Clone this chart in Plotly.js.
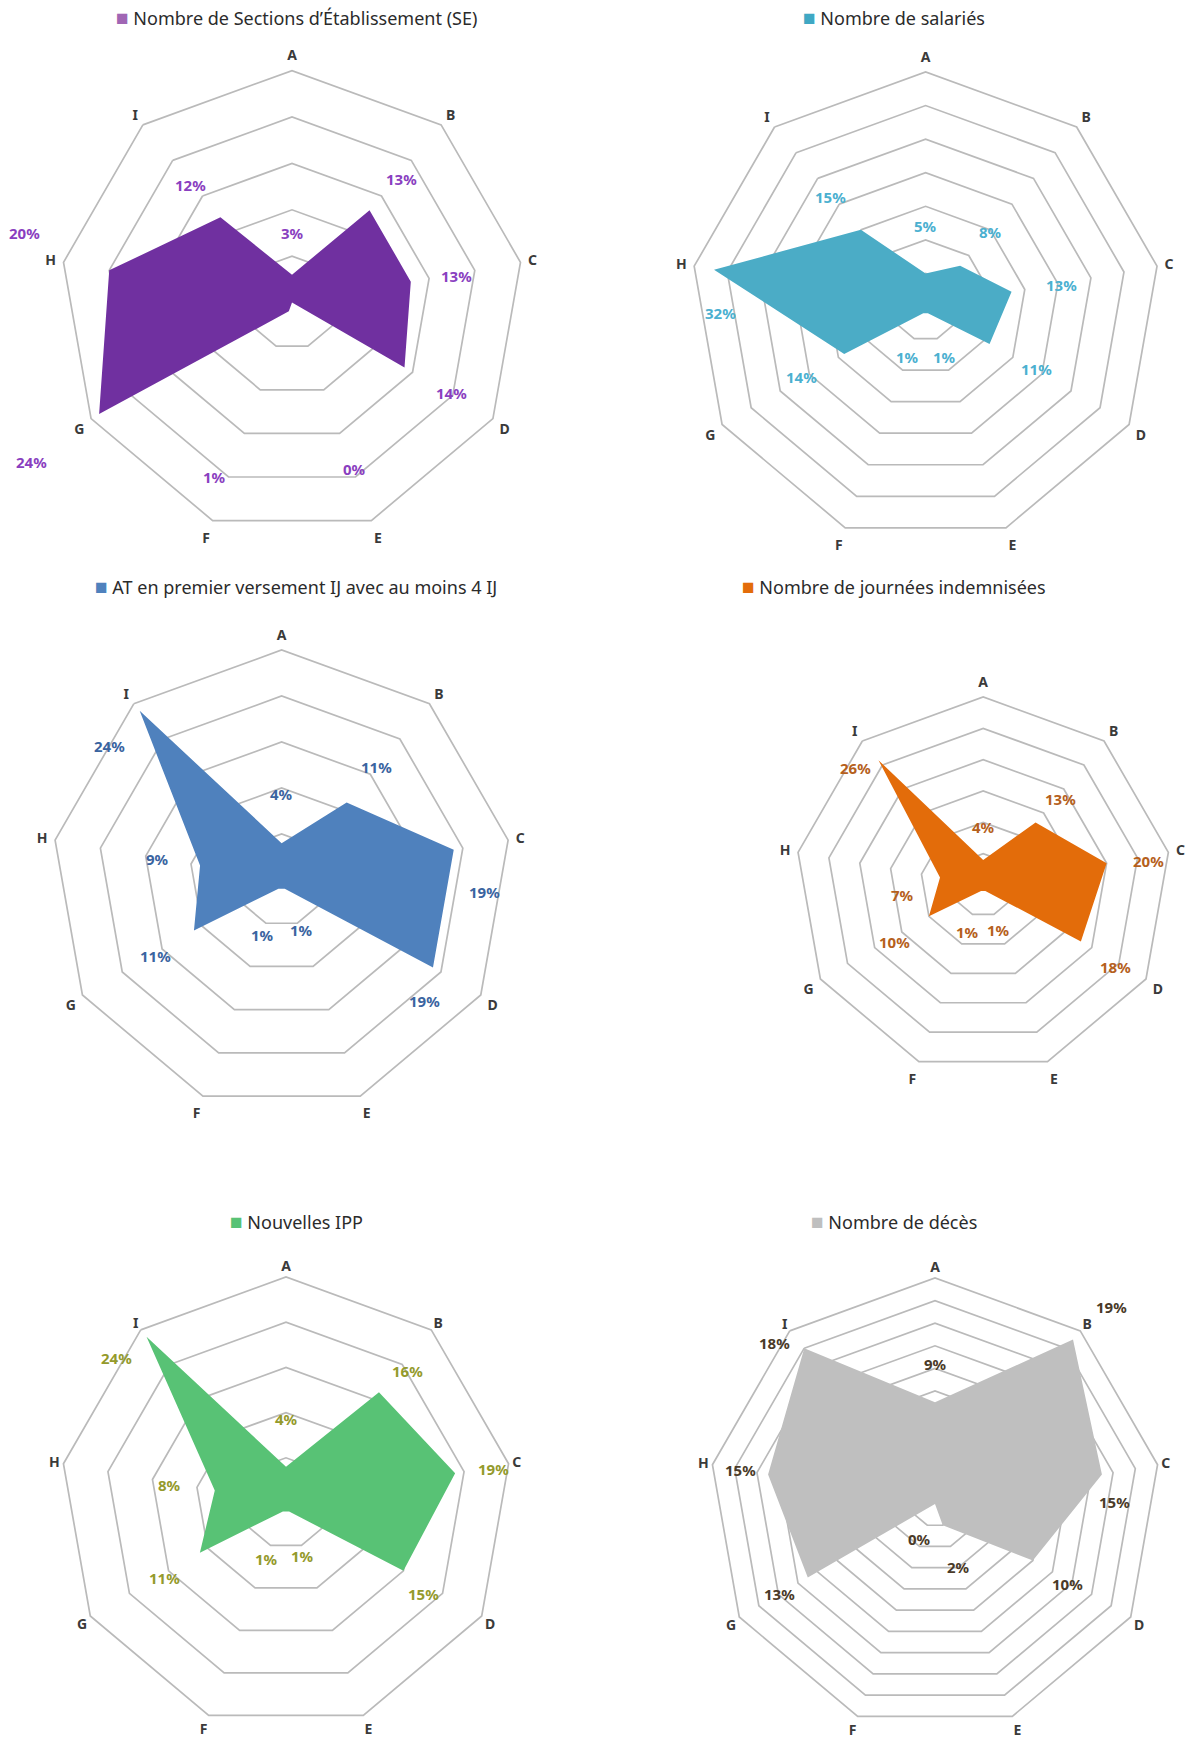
<!DOCTYPE html>
<html>
<head>
<meta charset="utf-8">
<script src="https://cdn.plot.ly/plotly-3.0.1.min.js"></script>
<style>
  html, body { margin: 0; padding: 0; background: #ffffff; overflow: hidden; }
  #chart { width: 1195px; height: 1738px; }
</style>
</head>
<body>
<div id="chart"></div>
<script>
// ---------- DATA ----------
const categories = ['A', 'B', 'C', 'D', 'E', 'F', 'G', 'H', 'I'];

const seriesNames = [
  "Nombre de Sections d\u2019\u00c9tablissement (SE)",
  "Nombre de salari\u00e9s",
  "AT en premier versement IJ avec au moins 4 IJ",
  "Nombre de journ\u00e9es indemnis\u00e9es",
  "Nouvelles IPP",
  "Nombre de d\u00e9c\u00e8s"
];

const sectionsSE   = [3, 13, 13, 14, 0, 1, 24, 20, 12];
const salaries     = [5, 8, 13, 11, 1, 1, 14, 32, 15];
const atPremierIJ  = [4, 11, 19, 19, 1, 1, 11, 9, 24];
const journees     = [4, 13, 20, 18, 1, 1, 10, 7, 26];
const nouvellesIPP = [4, 16, 19, 15, 1, 1, 11, 8, 24];
const deces        = [9, 19, 15, 10, 2, 0, 13, 15, 18];

const allSeries = [sectionsSE, salaries, atPremierIJ, journees, nouvellesIPP, deces];

// ---------- STYLE / LAYOUT (positions, sizes, colours) ----------
// label placement: radius (in axis units) and angle (deg, clockwise from top)
const W = 1195, H = 1738;
const panels = [
  { cx: 292, cy: 302.6, R: 232, max: 25, step: 5, tl: 4,
    fill: '#7030a0', key: '#a066b4', lab: '#8a3fc0', tx: 296, ty: 17,
    labR: [7.45, 17.8, 18.0, 19.7, 19.2, 20.5, 32.9, 29.8, 16.7],
    labA: [0, 41.4, 80.8, 119.5, 159.5, 203.9, 238.6, 284.5, 319.1] },
  { cx: 925.6, cy: 307, R: 235, max: 35, step: 5, tl: 4,
    fill: '#4bacc6', key: '#3fa8c4', lab: '#4bb0d0', tx: 893.5, ty: 17,
    labR: [12.1, 14.7, 20.5, 18.9, 8.0, 7.9, 21.3, 30.5, 21.7],
    labA: [0, 40.9, 80.7, 119.5, 159.3, 199.6, 240.6, 268.4, 319] },
  { cx: 281.6, cy: 880, R: 230, max: 25, step: 5, tl: 4,
    fill: '#4f81bd', key: '#4f81bd', lab: '#3a64a0', tx: 296, ty: 586,
    labR: [9.3, 16.0, 22.1, 20.3, 5.9, 6.3, 16.0, 13.7, 23.7],
    labA: [0, 40.1, 93.5, 130.2, 158.2, 199.1, 239, 279.7, 307.9] },
  { cx: 983.2, cy: 885, R: 188, max: 30, step: 5, tl: 4,
    fill: '#e36c0a', key: '#e36c0a', lab: '#b5601c', tx: 893.5, ty: 586,
    labR: [9.3, 18.5, 26.7, 24.8, 7.6, 7.9, 16.8, 13.0, 27.7],
    labA: [0, 41.9, 81.9, 121.7, 160.7, 198.4, 237.2, 262.9, 312.6] },
  { cx: 286, cy: 1503, R: 226, max: 25, step: 5, tl: 0,
    fill: '#58c275', key: '#58c275', lab: '#949a2c', tx: 296, ty: 1221,
    labR: [9.3, 19.9, 23.3, 18.2, 6.2, 6.6, 15.8, 13.0, 24.7],
    labA: [0, 42.7, 80.6, 123.5, 162.6, 199.4, 238.3, 278.7, 310.6] },
  { cx: 935, cy: 1504, R: 226, max: 20, step: 2, tl: 0,
    fill: '#bfbfbf', key: '#bfbfbf', lab: '#4a3a28', tx: 893.5, ty: 1221,
    labR: [12.4, 23.4, 15.9, 13.7, 5.9, 3.4, 15.9, 17.5, 20.1],
    labA: [0, 41.8, 89.3, 121, 159.8, 203.6, 240.1, 279.9, 315] }
];

const traces = [];
const layout = {
  width: W, height: H,
  margin: { l: 0, r: 0, t: 0, b: 0 },
  paper_bgcolor: '#ffffff',
  showlegend: false,
  font: { family: 'Noto Sans, sans-serif', color: '#333333' },
  annotations: []
};

panels.forEach((p, i) => {
  const sub = i === 0 ? 'polar' : 'polar' + (i + 1);
  const values = allSeries[i];

  traces.push({
    type: 'scatterpolar',
    subplot: sub,
    r: values,
    theta: categories,
    mode: 'lines',
    fill: 'toself',
    fillcolor: p.fill,
    line: { width: 0, color: p.fill },
    name: seriesNames[i],
    hoverinfo: 'r+theta'
  });

  layout[sub] = {
    domain: {
      x: [(p.cx - p.R) / W, (p.cx + p.R) / W],
      y: [1 - (p.cy + p.R) / H, 1 - (p.cy - p.R) / H]
    },
    gridshape: 'linear',
    bgcolor: '#ffffff',
    radialaxis: {
      range: [0, p.max],
      dtick: p.step,
      tick0: 0,
      showticklabels: false,
      ticks: '',
      showline: false,
      gridcolor: '#bababa',
      gridwidth: 1.7
    },
    angularaxis: {
      rotation: 90,
      direction: 'clockwise',
      categoryorder: 'array',
      categoryarray: categories,
      showgrid: false,
      showline: true,
      linecolor: '#bababa',
      linewidth: 1.7,
      ticks: p.tl > 0 ? 'outside' : '',
      ticklen: p.tl,
      tickcolor: 'rgba(0,0,0,0)',
      tickfont: { family: 'Noto Sans, sans-serif', size: 14, color: '#3a3a3a', weight: 700 }
    }
  };

  // data labels (text) placed along the panel's own radial geometry
  values.forEach((v, k) => {
    const rr = p.labR[k] / p.max * p.R;
    const a = p.labA[k] * Math.PI / 180;
    layout.annotations.push({
      xref: 'paper', yref: 'paper',
      x: (p.cx + rr * Math.sin(a)) / W,
      y: 1 - (p.cy - rr * Math.cos(a)) / H,
      xanchor: 'center', yanchor: 'middle',
      showarrow: false,
      text: v + '%',
      font: { family: 'Noto Sans, sans-serif', size: 15, color: p.lab, weight: 700 }
    });
  });

  // title with coloured key square
  layout.annotations.push({
    xref: 'paper', yref: 'paper',
    x: p.tx / W, y: 1 - p.ty / H,
    xanchor: 'center', yanchor: 'middle',
    showarrow: false,
    text: '<span style="color:' + p.key + ';font-size:21px">\u25a0</span> ' + seriesNames[i],
    font: { family: 'Noto Sans, sans-serif', size: 18, color: '#2b2b2b' }
  });
});

Plotly.newPlot('chart', traces, layout, { displayModeBar: false, staticPlot: true });
</script>
</body>
</html>
